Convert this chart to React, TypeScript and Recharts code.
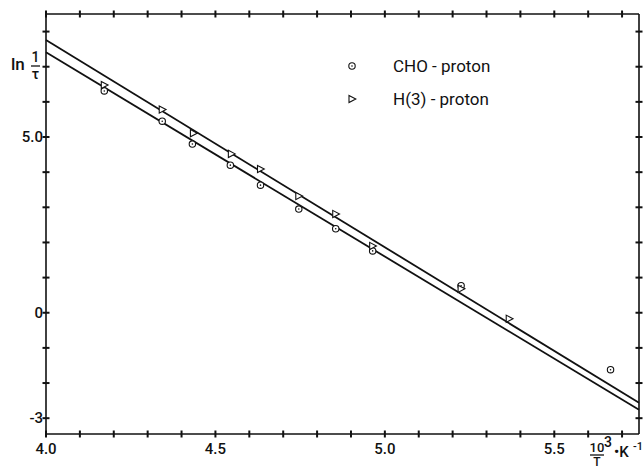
import {
  ReferenceLine,
  Scatter,
  ScatterChart,
  XAxis,
  YAxis,
} from "recharts";

const choX = [4.172, 4.343, 4.432, 4.544, 4.633, 4.746, 4.855, 4.964, 5.225, 5.666];
const choY = [6.31, 5.45, 4.8, 4.2, 3.63, 2.95, 2.39, 1.76, 0.77, -1.62];
const h3X = [4.172, 4.343, 4.435, 4.547, 4.633, 4.746, 4.855, 4.964, 5.225, 5.367];
const h3Y = [6.48, 5.78, 5.11, 4.52, 4.09, 3.32, 2.81, 1.9, 0.68, -0.17];

// fitted lines, read at the left and right edges of the frame
const h3Fit = [
  { x: 4.0, y: 7.76 },
  { x: 5.75, y: -2.56 },
];
const choFit = [
  { x: 4.0, y: 7.41 },
  { x: 5.75, y: -2.76 },
];

const xTicks = [4.0, 4.1, 4.2, 4.3, 4.4, 4.5, 4.6, 4.7, 4.8, 4.9, 5.0, 5.1, 5.2, 5.3, 5.4, 5.5, 5.6, 5.7];
const xLabels: Record<string, string> = { "4": "4.0", "4.5": "4.5", "5": "5.0", "5.5": "5.5" };
const yTicks = [-3, -2, -1, 0, 1, 2, 3, 4, 5, 6, 7, 8];
const yLabels: Record<string, string> = { "5": "5.0", "0": "0", "-3": "-3" };

const cho = choX.map((x, i) => ({ x, y: choY[i] }));
const h3 = h3X.map((x, i) => ({ x, y: h3Y[i] }));

const INK = "#111";
const FONT = "Roboto, 'DejaVu Sans', sans-serif";
const X_DOMAIN = [4.0, 5.75];
const Y_DOMAIN = [-3.45, 8.5];

const W = 643;
const H = 468;
const MARGIN = { top: 14, right: 4, bottom: 0, left: 0 };
const X_AXIS_H = 34;
const Y_AXIS_W = 46;
// plot box size, used to mirror the ticks onto the top and right edges
const PLOT_W = W - MARGIN.left - MARGIN.right - Y_AXIS_W;
const PLOT_H = H - MARGIN.top - MARGIN.bottom - X_AXIS_H;
const TICK = 3.5;

function CircleDot(props: any) {
  const { cx, cy } = props;
  return (
    <g>
      <circle cx={cx} cy={cy} r={3.2} fill="#fff" stroke={INK} strokeWidth={1.1} />
      <circle cx={cx} cy={cy} r={0.8} fill={INK} />
    </g>
  );
}

function Tri(props: any) {
  const { cx, cy } = props;
  return (
    <path
      d={`M${cx - 3} ${cy - 3.6} L${cx + 3.8} ${cy} L${cx - 3} ${cy + 3.6} Z`}
      fill="#fff"
      stroke={INK}
      strokeWidth={1.1}
    />
  );
}

function BottomTick({ x, y, payload }: any) {
  const label = xLabels[String(payload.value)];
  return (
    <g stroke={INK} strokeWidth={2}>
      <line x1={x} x2={x} y1={y - TICK} y2={y + TICK} />
      <line x1={x} x2={x} y1={y - PLOT_H - TICK} y2={y - PLOT_H + TICK} />
      {label && (
        <text x={x} y={y + 20} textAnchor="middle" fontSize={15} fontWeight={500} fontFamily={FONT} fill={INK} stroke="none">
          {label}
        </text>
      )}
    </g>
  );
}

function LeftTick({ x, y, payload }: any) {
  const label = yLabels[String(payload.value)];
  return (
    <g stroke={INK} strokeWidth={2}>
      <line x1={x - TICK} x2={x + TICK} y1={y} y2={y} />
      <line x1={x + PLOT_W - TICK} x2={x + PLOT_W + TICK} y1={y} y2={y} />
      {label && (
        <text x={x - 3} y={y + 5} textAnchor="end" fontSize={15} fontWeight={500} fontFamily={FONT} fill={INK} stroke="none">
          {label}
        </text>
      )}
    </g>
  );
}

const legendRows = [
  { name: "CHO - proton", Shape: CircleDot },
  { name: "H(3) - proton", Shape: Tri },
];

export default function App() {
  return (
    <div style={{ position: "absolute", left: 0, top: 0, background: "#fff" }}>
      <ScatterChart width={W} height={H} margin={MARGIN}>
        <XAxis
          type="number"
          dataKey="x"
          domain={X_DOMAIN}
          ticks={xTicks}
          interval={0}
          height={X_AXIS_H}
          tickSize={0}
          tickMargin={0}
          tickLine={false}
          axisLine={{ stroke: INK, strokeWidth: 1.6 }}
          tick={BottomTick}
          allowDataOverflow
        />
        <YAxis
          type="number"
          dataKey="y"
          domain={Y_DOMAIN}
          ticks={yTicks}
          interval={0}
          width={Y_AXIS_W}
          tickSize={0}
          tickMargin={0}
          tickLine={false}
          axisLine={{ stroke: INK, strokeWidth: 1.6 }}
          tick={LeftTick}
          allowDataOverflow
        />
        {/* frame on the top and right */}
        <ReferenceLine y={Y_DOMAIN[1]} stroke={INK} strokeWidth={1.6} />
        <ReferenceLine x={X_DOMAIN[1]} stroke={INK} strokeWidth={1.6} />
        <ReferenceLine segment={h3Fit} stroke={INK} strokeWidth={1.8} />
        <ReferenceLine segment={choFit} stroke={INK} strokeWidth={1.8} />
        <Scatter name="CHO - proton" data={cho} shape={CircleDot} isAnimationActive={false} />
        <Scatter name="H(3) - proton" data={h3} shape={Tri} isAnimationActive={false} />
      </ScatterChart>
      <svg
        width={W}
        height={H}
        style={{ position: "absolute", left: 0, top: 0, pointerEvents: "none" }}
        fontFamily={FONT}
        fill={INK}
      >
        {legendRows.map(({ name, Shape }, i) => (
          <g key={name}>
            <Shape cx={352} cy={66 + i * 33} />
            <text x={393} y={72 + i * 33} fontSize={17}>{name}</text>
          </g>
        ))}
        <text x={11} y={70} fontSize={17} fontWeight={500}>ln</text>
        <text x={35.5} y={62} fontSize={14} fontWeight={500} textAnchor="middle">1</text>
        <line x1={31} x2={40} y1={66} y2={66} stroke={INK} strokeWidth={1.3} />
        <text x={35.5} y={79} fontSize={14} fontWeight={500} textAnchor="middle">τ</text>
        <text x={597} y={452} fontSize={13} fontWeight={500} textAnchor="middle">10</text>
        <text x={608} y={447} fontSize={14} fontWeight={500} textAnchor="middle">3</text>
        <line x1={590} x2={604} y1={455} y2={455} stroke={INK} strokeWidth={1.3} />
        <text x={597} y={466} fontSize={12} fontWeight={500} textAnchor="middle">T</text>
        <text x={614} y={457} fontSize={15} fontWeight={500}>•K</text>
        <text x={633} y={450} fontSize={11} fontWeight={500}>-1</text>
      </svg>
    </div>
  );
}
